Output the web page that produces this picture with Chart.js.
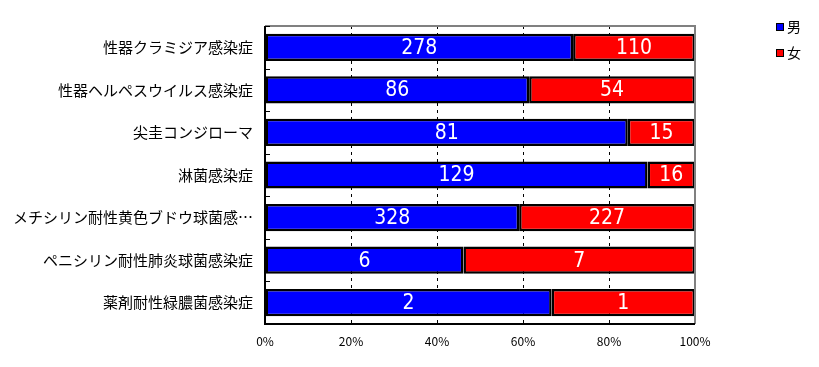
<!DOCTYPE html>
<html>
<head>
<meta charset="utf-8">
<script src="https://cdn.jsdelivr.net/npm/chart.js@4/dist/chart.umd.min.js"></script>
<style>
  body { margin: 0; background: #fff; }
  #wrap { position: relative; width: 819px; height: 367px; }
  .leg { position: absolute; left: 776px; font: 14px "Noto Sans CJK JP"; color: #000; line-height: 16px; }
  .leg i { display: inline-block; width: 6px; height: 6px; border: 1px solid #000; margin-right: 3px; vertical-align: 1px; }
</style>
</head>
<body>
<div id="wrap">
  <canvas id="myChart" width="819" height="367"></canvas>
  <div class="leg" style="top:18px"><i style="background:#0000ff"></i>男</div>
  <div class="leg" style="top:44px"><i style="background:#ff0000"></i>女</div>
</div>
<script>
// カテゴリ
const categories = [
  '性器クラミジア感染症',
  '性器ヘルペスウイルス感染症',
  '尖圭コンジローマ',
  '淋菌感染症',
  'メチシリン耐性黄色ブドウ球菌感染症',
  'ペニシリン耐性肺炎球菌感染症',
  '薬剤耐性緑膿菌感染症'
];
// 件数
const male = [278, 86, 81, 129, 328, 6, 2];
const female = [110, 54, 15, 16, 227, 7, 1];
const xTicks = [0, 20, 40, 60, 80, 100];

// 100%積み上げ用に割合へ変換
const toPct = (a, b) => a.map((v, i) => v / (a[i] + b[i]) * 100);
const malePct = toPct(male, female);
const femalePct = toPct(female, male);

// 棒の中に件数を描く
const valueLabels = {
  id: 'valueLabels',
  afterDatasetsDraw(chart) {
    const ctx = chart.ctx;
    ctx.save();
    ctx.fillStyle = '#fff';
    ctx.font = '21px "DejaVu Sans Condensed", "Noto Sans CJK JP"';
    ctx.textAlign = 'center';
    ctx.textBaseline = 'middle';
    chart.data.datasets.forEach((ds, di) => {
      chart.getDatasetMeta(di).data.forEach((el, i) => {
        ctx.fillText(String(ds.counts[i]), (el.x + el.base) / 2, el.y + 1);
      });
    });
    ctx.restore();
  }
};

// 枠線と左軸の内側目盛り
const frame = {
  id: 'frame',
  afterDraw(chart) {
    const { ctx, chartArea: a, scales } = chart;
    ctx.save();
    ctx.lineWidth = 2;
    ctx.strokeStyle = '#808080';
    ctx.beginPath();
    ctx.moveTo(a.left, a.top); ctx.lineTo(a.right, a.top); ctx.lineTo(a.right, a.bottom);
    ctx.stroke();
    ctx.strokeStyle = '#000';
    ctx.beginPath();
    ctx.moveTo(a.left, a.top); ctx.lineTo(a.left, a.bottom); ctx.lineTo(a.right, a.bottom);
    ctx.stroke();
    ctx.lineWidth = 1;
    const y = scales.y;
    for (let i = 0; i <= categories.length; i++) {
      const p = Math.round(y.getPixelForValue(i - 0.5)) + 0.5;
      ctx.beginPath();
      ctx.moveTo(a.left, p); ctx.lineTo(a.left + 5, p);
      ctx.stroke();
    }
    ctx.restore();
  }
};

new Chart(document.getElementById('myChart'), {
  type: 'bar',
  data: {
    labels: categories,
    datasets: [
      { label: '男', data: malePct, counts: male, backgroundColor: '#0000ff', borderColor: '#000', borderWidth: 2.5, borderSkipped: false },
      { label: '女', data: femalePct, counts: female, backgroundColor: '#ff0000', borderColor: '#000', borderWidth: 2.5, borderSkipped: false }
    ]
  },
  options: {
    indexAxis: 'y',
    responsive: false,
    animation: false,
    layout: { padding: { top: 26, right: 124, left: 0, bottom: 0 } },
    datasets: { bar: { barPercentage: 0.64, categoryPercentage: 1 } },
    plugins: { legend: { display: false }, tooltip: { enabled: false } },
    scales: {
      x: {
        stacked: true,
        min: 0,
        max: 100,
        afterBuildTicks: s => { s.ticks = xTicks.map(v => ({ value: v })); },
        afterFit: s => { s.height = 43; },
        grid: { color: '#000', drawTicks: false, lineWidth: 1 },
        border: { display: false, dash: [3, 4] },
        ticks: { color: '#000', font: { size: 12, family: 'Noto Sans CJK JP' }, padding: 10, callback: v => v + '%' }
      },
      y: {
        stacked: true,
        afterFit: s => { s.width = 265; },
        border: { display: false },
        grid: { display: false },
        ticks: {
          color: '#000',
          padding: 4,
          font: { size: 15, family: 'Noto Sans CJK JP' },
          callback: function (v) {
            const t = this.getLabelForValue(v);
            return t.length > 15 ? t.slice(0, 15) + '…' : t;
          }
        }
      }
    }
  },
  plugins: [valueLabels, frame]
});
</script>
</body>
</html>
